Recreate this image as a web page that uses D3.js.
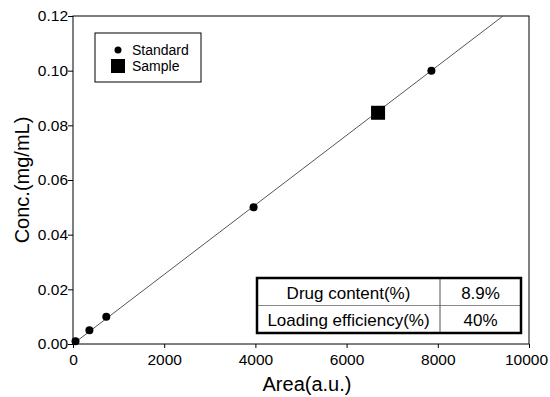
<!DOCTYPE html>
<html>
<head>
<meta charset="utf-8">
<script src="https://cdn.jsdelivr.net/npm/d3@7"></script>
<style>
  body { margin: 0; background: #fff; }
  text { font-family: Arial, "Liberation Sans", sans-serif; fill: #000; }
</style>
</head>
<body>
<div id="chart"></div>
<script>
// calibration data
const standardArea = [55, 360, 730, 3960, 7860];
const standardConc = [0.001, 0.005, 0.01, 0.05, 0.1];
const sampleArea = [6690];
const sampleConc = [0.0846];
const fitSlope = 1.2725e-5;
const fitIntercept = 0;
const xTicks = [0, 2000, 4000, 6000, 8000, 10000];
const yTicks = [0, 0.02, 0.04, 0.06, 0.08, 0.1, 0.12];
const tableRows = [["Drug content(%)", "8.9%"], ["Loading efficiency(%)", "40%"]];

const width = 550, height = 397;
const margin = { top: 16, right: 21, bottom: 53, left: 73 };
const iw = width - margin.left - margin.right;
const ih = height - margin.top - margin.bottom;
const font = "Arial, 'Liberation Sans', sans-serif";

const svg = d3.select("#chart").append("svg")
  .attr("width", width).attr("height", height);
const g = svg.append("g").attr("transform", `translate(${margin.left},${margin.top})`);

const x = d3.scaleLinear().domain([0, 10000]).range([0, iw]);
const y = d3.scaleLinear().domain([0, 0.12]).range([ih, 0]);

// frame
g.append("rect").attr("width", iw).attr("height", ih)
  .attr("fill", "none").attr("stroke", "#000").attr("stroke-width", 1);

// axes
const xAxis = g.append("g").attr("transform", `translate(0,${ih})`)
  .call(d3.axisBottom(x).tickValues(xTicks).tickSize(4).tickPadding(6).tickFormat(d3.format("d")));
const yAxis = g.append("g")
  .call(d3.axisLeft(y).tickValues(yTicks).tickSize(5).tickPadding(0).tickFormat(d3.format(".2f")));
[xAxis, yAxis].forEach(a => {
  a.select(".domain").remove();
  a.selectAll("text").attr("font-size", 15.5).style("font-family", font);
});
// keep the last x label inside the window
xAxis.selectAll(".tick text").filter(d => d === 10000).attr("dx", -3);

// fit line, clipped at the top of the plot
const xEnd = Math.min(10000, (0.12 - fitIntercept) / fitSlope);
const xStart = Math.max(0, -fitIntercept / fitSlope);
g.append("line")
  .attr("x1", x(xStart)).attr("y1", y(fitSlope * xStart + fitIntercept))
  .attr("x2", x(xEnd)).attr("y2", y(fitSlope * xEnd + fitIntercept))
  .attr("stroke", "#555").attr("stroke-width", 1);

// standards
g.selectAll(".std")
  .data(standardArea.map((a, i) => [a, standardConc[i]]))
  .join("circle")
  .attr("class", "std")
  .attr("cx", d => x(d[0])).attr("cy", d => y(d[1]))
  .attr("r", 4).attr("fill", "#000");

// sample
const sq = 14;
g.selectAll(".smp")
  .data(sampleArea.map((a, i) => [a, sampleConc[i]]))
  .join("rect")
  .attr("class", "smp")
  .attr("x", d => x(d[0]) - sq / 2).attr("y", d => y(d[1]) - sq / 2)
  .attr("width", sq).attr("height", sq).attr("fill", "#000");

// legend
const lg = svg.append("g").attr("transform", "translate(95,33)");
lg.append("rect").attr("width", 106).attr("height", 49)
  .attr("fill", "#fff").attr("stroke", "#000").attr("stroke-width", 1);
lg.append("circle").attr("cx", 23).attr("cy", 17).attr("r", 3.5).attr("fill", "#000");
lg.append("rect").attr("x", 16).attr("y", 26).attr("width", 14).attr("height", 14).attr("fill", "#000");
lg.append("text").attr("x", 37).attr("y", 22).attr("font-size", 14).text("Standard");
lg.append("text").attr("x", 37).attr("y", 38).attr("font-size", 14).text("Sample");

// table
const tx = 257, ty = 278, tw = 264, th = 55, colX = 183;
const tg = svg.append("g").attr("transform", `translate(${tx},${ty})`);
tg.append("rect").attr("width", tw).attr("height", th).attr("fill", "#fff");
tg.append("line").attr("x1", 0).attr("x2", tw).attr("y1", th / 2).attr("y2", th / 2)
  .attr("stroke", "#888").attr("stroke-width", 1);
tg.append("line").attr("x1", colX).attr("x2", colX).attr("y1", 0).attr("y2", th)
  .attr("stroke", "#555").attr("stroke-width", 1);
tg.append("rect").attr("width", tw).attr("height", th)
  .attr("fill", "none").attr("stroke", "#000").attr("stroke-width", 2.5);
tableRows.forEach((r, i) => {
  const cy = th / 4 + i * th / 2 + 7;
  tg.append("text").attr("x", colX / 2).attr("y", cy)
    .attr("text-anchor", "middle").attr("font-size", 17).text(r[0]);
  tg.append("text").attr("x", (colX + tw) / 2).attr("y", cy)
    .attr("text-anchor", "middle").attr("font-size", 17).text(r[1]);
});

// axis titles
svg.append("text").attr("x", 307).attr("y", 391)
  .attr("text-anchor", "middle").attr("font-size", 20).text("Area(a.u.)");
svg.append("text")
  .attr("transform", `translate(29,180) rotate(-90)`)
  .attr("text-anchor", "middle").attr("font-size", 20).text("Conc.(mg/mL)");
</script>
</body>
</html>
